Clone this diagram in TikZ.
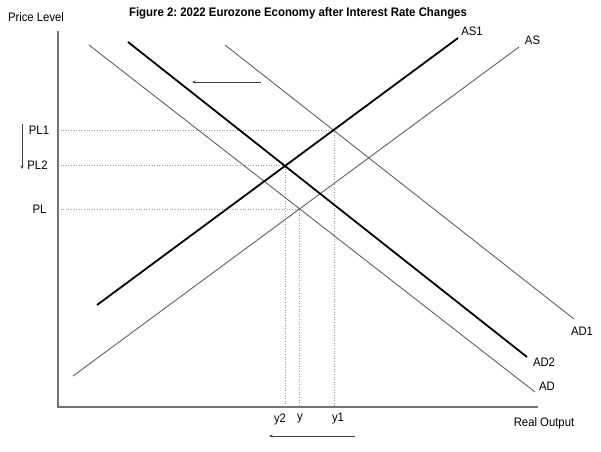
\documentclass[tikz,border=0pt]{standalone}
\usepackage{fontspec}
\setmainfont[FakeStretch=0.92]{Liberation Sans}
\usetikzlibrary{arrows.meta}
\frenchspacing
\begin{document}
\begin{tikzpicture}[x=1pt,y=-1pt,
  lbl/.style={inner sep=0pt,font=\fontsize{12.3}{14}\selectfont},
  ttl/.style={inner sep=0pt,font=\fontsize{12.4}{14}\selectfont\bfseries},
  axisline/.style={draw=black!55,line width=1.3pt},
  thinline/.style={draw=black!62,line width=0.9pt},
  thickline/.style={draw=black,line width=1.8pt},
  guide/.style={draw=black!40,line width=0.6pt,dotted},
  shiftarrow/.style={draw=black!75,line width=0.8pt,-{Stealth[length=3.5pt,width=3pt]}}]
\useasboundingbox (0,0) rectangle (601,451);
\fill[white] (0,0) rectangle (601,451);
% axes
\coordinate (O) at (58,407);
\coordinate (Ytop) at (58,31);
\coordinate (Xend) at (538,407);
\draw[axisline] (Ytop) -- (O) -- (Xend);
% guide points
\coordinate (e1) at (334,130);
\coordinate (e2) at (285,165);
\coordinate (e0) at (299,209);
\coordinate (a1) at (58,130);
\coordinate (a2) at (58,165);
\coordinate (a0) at (58,209);
\coordinate (b1) at (334,407);
\coordinate (b2) at (285,407);
\coordinate (b0) at (299,407);
\draw[guide] (a1) -- (e1) -- (b1);
\draw[guide] (a2) -- (e2) -- (b2);
\draw[guide] (a0) -- (e0) -- (b0);
% curves
\coordinate (ADs) at (89,45);   \coordinate (ADe) at (535,392);
\coordinate (AD1s) at (225,45); \coordinate (AD1e) at (574,319);
\coordinate (AD2s) at (128,42); \coordinate (AD2e) at (527,357);
\coordinate (ASs) at (73,376);  \coordinate (ASe) at (519,47);
\coordinate (AS1s) at (97,305); \coordinate (AS1e) at (458,38);
\draw[thinline] (ADs) -- (ADe);
\draw[thinline] (AD1s) -- (AD1e);
\draw[thinline] (ASs) -- (ASe);
\draw[thickline] (AD2s) -- (AD2e);
\draw[thickline] (AS1s) -- (AS1e);
% shift arrows
\coordinate (t1) at (261,82);  \coordinate (t2) at (192,82);
\coordinate (d1) at (22,124);  \coordinate (d2) at (22,169);
\coordinate (h1) at (355,436); \coordinate (h2) at (269,436);
\draw[shiftarrow] (t1) -- (t2);
\draw[shiftarrow] (d1) -- (d2);
\draw[shiftarrow] (h1) -- (h2);
% labels
\node[ttl] (title) at (298,13) {Figure 2: 2022 Eurozone Economy after Interest Rate Changes};
\node[lbl] (pl) at (36,17) {Price Level};
\node[lbl] (lPL1) at (39,130) {PL1};
\node[lbl] (lPL2) at (37.5,165) {PL2};
\node[lbl] (lPL) at (39.5,209) {PL};
\node[lbl] (lAS1) at (472,31) {AS1};
\node[lbl] (lAS) at (532.5,40) {AS};
\node[lbl] (lAD1) at (582,331) {AD1};
\node[lbl] (lAD2) at (544,362) {AD2};
\node[lbl] (lAD) at (547,386) {AD};
\node[lbl] (ly2) at (280,419) {y2};
\node[lbl] (ly) at (300,419) {y};
\node[lbl] (ly1) at (338,419) {y1};
\node[lbl] (ro) at (544,423) {Real Output};
\end{tikzpicture}
\end{document}
